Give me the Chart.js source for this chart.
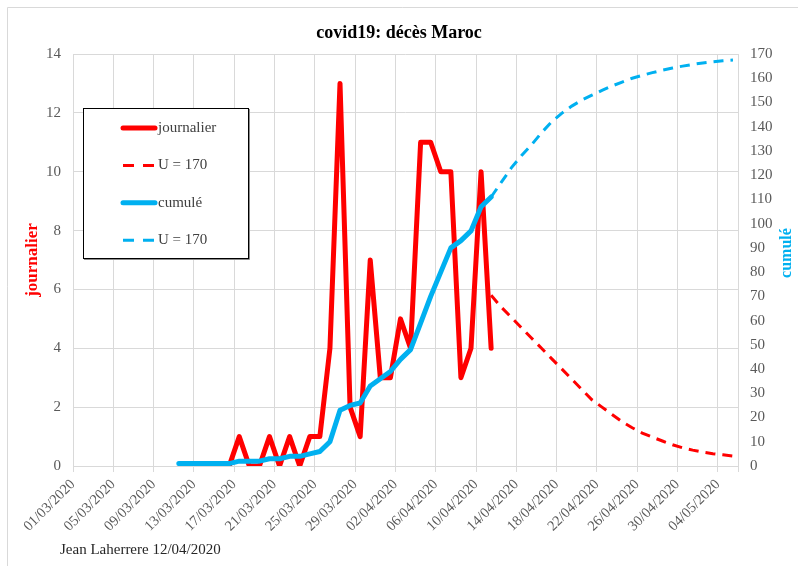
<!DOCTYPE html>
<html>
<head>
<meta charset="utf-8">
<script src="https://cdn.jsdelivr.net/npm/chart.js@4.4.1/dist/chart.umd.min.js"></script>
<style>
  html, body { margin: 0; padding: 0; background: #fff; }
</style>
</head>
<body>
<canvas id="chart" width="798" height="566"></canvas>
<script>
// x axis: one slot per day, ticks every 4 days
const axisStart = '01/03/2020';
const axisEnd = '06/05/2020';
const tickLabels = ['01/03/2020', '05/03/2020', '09/03/2020', '13/03/2020', '17/03/2020', '21/03/2020',
    '25/03/2020', '29/03/2020', '02/04/2020', '06/04/2020', '10/04/2020', '14/04/2020', '18/04/2020',
    '22/04/2020', '26/04/2020', '30/04/2020', '04/05/2020'];

// daily deaths (left axis)
const journalierStart = '16/03/2020';
const journalier = [0, 1, 0, 0, 1, 0, 1, 0, 1, 1, 4, 13, 2, 1, 7, 3, 3, 5, 4, 11, 11, 10, 10, 3, 4, 10, 4];

// cumulative deaths (right axis)
const cumuleStart = '11/03/2020';
const cumule = [1, 1, 1, 1, 1, 1, 2, 2, 2, 3, 3, 4, 4, 5, 6, 10, 23, 25, 26, 33, 36, 39, 44, 48, 59, 70,
    80, 90, 93, 97, 107, 111];

// U = 170 projections
const projStart = '11/04/2020';
const journalierU = [5.8, 5.4, 5.05, 4.7, 4.35, 4.0, 3.65, 3.3, 2.95, 2.6, 2.25, 2.0, 1.75, 1.5, 1.3,
    1.12, 0.98, 0.85, 0.72, 0.62, 0.54, 0.47, 0.42, 0.38, 0.34];
const cumuleU = [111, 117, 123, 128, 132.5, 137.5, 142, 145.5, 148.5, 151, 153, 155, 156.8, 158.4, 160,
    161.2, 162.3, 163.3, 164.2, 165, 165.7, 166.3, 166.8, 167.2, 167.5];

const RED = '#FF0000';
const BLUE = '#00B0F0';
const GRID = '#d9d9d9';
const SERIF = "'Liberation Serif', 'Times New Roman', serif";

function dayIndex(s) {
    const [d, m, y] = s.split('/').map(Number);
    return Math.round((Date.UTC(y, m - 1, d) - Date.UTC(2020, 2, 1)) / 864e5);
}

// points sit in the middle of their day slot
function toPoints(start, values) {
    const d0 = dayIndex(start);
    return values.map((v, i) => ({ x: d0 + i + 0.5, y: v }));
}

const legendItems = [
    { text: 'journalier', color: RED, dash: false },
    { text: 'U = 170', color: RED, dash: true },
    { text: 'cumulé', color: BLUE, dash: false },
    { text: 'U = 170', color: BLUE, dash: true }
];

const extras = {
    id: 'extras',
    beforeDraw(chart) {
        const ctx = chart.ctx;
        ctx.save();
        ctx.fillStyle = '#fff';
        ctx.fillRect(0, 0, chart.width, chart.height);
        // outer frame (left and top only visible)
        ctx.strokeStyle = GRID;
        ctx.lineWidth = 1;
        ctx.beginPath();
        ctx.moveTo(7.5, chart.height);
        ctx.lineTo(7.5, 7.5);
        ctx.lineTo(chart.width, 7.5);
        ctx.stroke();
        ctx.restore();
    },
    afterDraw(chart) {
        const ctx = chart.ctx;
        ctx.save();

        // title
        ctx.fillStyle = '#000';
        ctx.font = 'bold 18px ' + SERIF;
        ctx.textAlign = 'center';
        ctx.textBaseline = 'middle';
        ctx.fillText('covid19: décès Maroc', 399, 33);

        // axis titles, both read bottom to top
        ctx.font = 'bold 17px ' + SERIF;
        ctx.fillStyle = RED;
        ctx.translate(33, 260);
        ctx.rotate(-Math.PI / 2);
        ctx.fillText('journalier', 0, 0);
        ctx.setTransform(1, 0, 0, 1, 0, 0);

        ctx.font = 'bold 16px ' + SERIF;
        ctx.fillStyle = BLUE;
        ctx.translate(787, 253);
        ctx.rotate(-Math.PI / 2);
        ctx.fillText('cumulé', 0, 0);
        ctx.setTransform(1, 0, 0, 1, 0, 0);

        // legend box
        ctx.fillStyle = '#fff';
        ctx.fillRect(83, 108, 165, 150);
        ctx.strokeStyle = '#8c8c8c';
        ctx.lineWidth = 1;
        ctx.beginPath();
        ctx.moveTo(249.5, 109);
        ctx.lineTo(249.5, 259.5);
        ctx.lineTo(84, 259.5);
        ctx.stroke();
        ctx.strokeStyle = '#000';
        ctx.strokeRect(83.5, 108.5, 165, 150);

        ctx.textAlign = 'left';
        ctx.font = '15px ' + SERIF;
        legendItems.forEach((it, i) => {
            const y = 128 + i * 37.4;
            ctx.strokeStyle = it.color;
            ctx.beginPath();
            if (it.dash) {
                ctx.lineWidth = 3;
                ctx.lineCap = 'butt';
                ctx.setLineDash([11, 9]);
            } else {
                ctx.lineWidth = 5;
                ctx.lineCap = 'round';
                ctx.setLineDash([]);
            }
            ctx.moveTo(123, y);
            ctx.lineTo(155, y);
            ctx.stroke();
            ctx.setLineDash([]);
            ctx.fillStyle = '#404040';
            ctx.fillText(it.text, 158, y);
        });

        // footer
        ctx.fillStyle = '#262626';
        ctx.font = '15px ' + SERIF;
        ctx.fillText('Jean Laherrere 12/04/2020', 60, 550);

        ctx.restore();
    }
};

new Chart(document.getElementById('chart'), {
    type: 'line',
    data: {
        datasets: [
            {
                label: 'journalier',
                data: toPoints(journalierStart, journalier),
                yAxisID: 'y',
                borderColor: RED,
                borderWidth: 5,
                borderJoinStyle: 'round',
                borderCapStyle: 'round',
                pointRadius: 0,
                tension: 0,
                order: 2
            },
            {
                label: 'U = 170',
                data: toPoints(projStart, journalierU),
                yAxisID: 'y',
                borderColor: RED,
                borderWidth: 3,
                borderDash: [10, 7],
                pointRadius: 0,
                tension: 0,
                order: 3
            },
            {
                label: 'cumulé',
                data: toPoints(cumuleStart, cumule),
                yAxisID: 'y2',
                borderColor: BLUE,
                borderWidth: 5,
                borderJoinStyle: 'round',
                borderCapStyle: 'round',
                pointRadius: 0,
                tension: 0,
                order: 0
            },
            {
                label: 'U = 170',
                data: toPoints(projStart, cumuleU),
                yAxisID: 'y2',
                borderColor: BLUE,
                borderWidth: 3,
                borderDash: [10, 7],
                pointRadius: 0,
                tension: 0,
                order: 1
            }
        ]
    },
    options: {
        responsive: false,
        animation: false,
        devicePixelRatio: 1,
        layout: { padding: { top: 54, left: 0, right: 0, bottom: 0 } },
        plugins: {
            legend: { display: false },
            tooltip: { enabled: false }
        },
        scales: {
            x: {
                type: 'linear',
                bounds: 'data',
                min: dayIndex(axisStart),
                max: dayIndex(axisEnd),
                afterFit(scale) { scale.height = 100; },
                ticks: {
                    stepSize: 4,
                    maxTicksLimit: 100,
                    includeBounds: false,
                    autoSkip: false,
                    maxRotation: 45,
                    minRotation: 45,
                    padding: 4,
                    color: '#595959',
                    font: { family: SERIF, size: 14.5 },
                    callback: (v) => (v % 4 === 0 ? tickLabels[v / 4] : '')
                },
                grid: { color: GRID, tickLength: 6 },
                border: { color: GRID }
            },
            y: {
                position: 'left',
                min: 0,
                max: 14,
                afterFit(scale) { scale.width = 73; },
                ticks: {
                    stepSize: 2,
                    padding: 12,
                    color: '#595959',
                    font: { family: SERIF, size: 15 }
                },
                grid: { color: GRID, drawTicks: false },
                border: { display: false }
            },
            y2: {
                position: 'right',
                min: 0,
                max: 170,
                afterFit(scale) { scale.width = 60; },
                ticks: {
                    stepSize: 10,
                    padding: 12,
                    color: '#595959',
                    font: { family: SERIF, size: 15 }
                },
                grid: { drawOnChartArea: false, drawTicks: false },
                border: { display: false }
            }
        }
    },
    plugins: [extras]
});
</script>
</body>
</html>
